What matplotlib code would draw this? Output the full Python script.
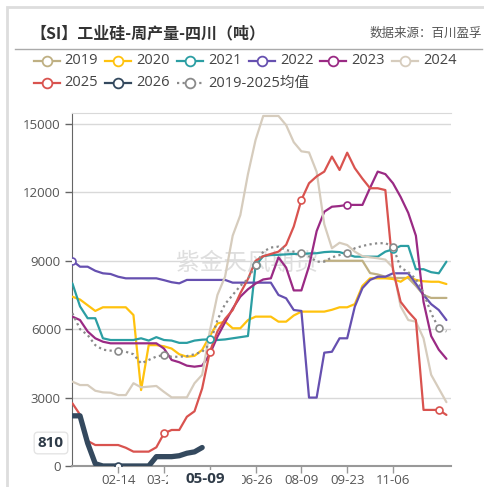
import numpy as np
import matplotlib
matplotlib.use("Agg")
import matplotlib.pyplot as plt
from matplotlib.lines import Line2D
from matplotlib.patches import Rectangle

plt.rcParams['font.family'] = ['Open Sans', 'Noto Sans CJK SC', 'DejaVu Sans']

# weekly production, Sichuan (t)
s2019 = [None] * 33 + [9000, 9000, 9000, 9000, 9000, 9000, 8460, 8400, 8300, 8245,
                       8245, 8245, 7900, 7500, 7370, 7370, 7370]
s2020 = [7425, 7300, 7050, 6800, 6960, 6960, 6960, 6960, 6620, 3330,
         5300, 5300, 5250, 5150, 4900, 4790, 4830, 5090, 5700, 6250,
         6330, 6040, 6040, 6400, 6550, 6550, 6550, 6330, 6330, 6600,
         6770, 6770, 6770, 6770, 6850, 6960, 6960, 7100, 7900, 8230,
         8230, 8230, 8200, 8080, 8300, 8160, 8100, 8080, 8080, 7980]
s2021 = [8010, 7000, 6480, 6480, 5600, 5525, 5525, 5525, 5525, 5600,
         5500, 5650, 5525, 5500, 5400, 5400, 5500, 5540, 5555, 5525,
         5550, 5600, 5650, 5700, 8800, 9200, 9250, 9260, 9280, 9300,
         9300, 9320, 9330, 9380, 9400, 9380, 9280, 9180, 9180, 9180,
         9180, 9400, 9500, 9650, 9650, 8630, 8630, 8500, 8450, 8960]
s2022 = [9000, 8740, 8740, 8560, 8450, 8420, 8300, 8230, 8230, 8230,
         8230, 8230, 8150, 8060, 8010, 8160, 8160, 8160, 8160, 8160,
         8160, 8040, 8040, 8040, 8040, 8040, 8040, 7500, 7355, 6840,
         6800, 3000, 3000, 4970, 5010, 5600, 5600, 6990, 7800, 8160,
         8300, 8300, 8450, 8450, 8450, 8000, 7500, 7100, 6840, 6400]
s2023 = [6550, 6400, 5900, 5600, 5450, 5380, 5380, 5380, 5380, 5380,
         5380, 5380, 5150, 4650, 4550, 4400, 4355, 4400, 4900, 5670,
         6300, 6900, 7425, 7750, 8000, 8180, 8230, 9150, 8700, 7700,
         7700, 8760, 10300, 11150, 11370, 11400, 11450, 11450, 11450, 12200,
         12910, 12800, 12400, 11800, 11100, 10100, 7200, 5700, 5100, 4700]
s2024 = [3700, 3550, 3550, 3300, 3230, 3215, 3110, 3110, 3630, 3450,
         3480, 3510, 3250, 3010, 3010, 3010, 3630, 4000, 5900, 7500,
         8300, 10100, 11000, 12800, 14300, 15350, 15350, 15350, 14950, 14200,
         13800, 13750, 12900, 10600, 9550, 9790, 9690, 9400, 9200, 9150,
         9110, 9050, 8700, 7000, 6400, 6330, 5600, 4000, 3400, 2800]
s2025 = [2750, 2250, 1100, 920, 920, 920, 920, 800, 630, 630,
         630, 820, 1430, 1580, 1580, 2160, 2400, 3400, 5000, 5900,
         6450, 6840, 7575, 8200, 9000, 9200, 9300, 9400, 9700, 10500,
         11670, 12400, 12700, 12910, 13570, 12980, 13740, 13060, 12600, 12180,
         12180, 12100, 8600, 7200, 6770, 6400, 2460, 2460, 2460, 2240]
s2026 = [2200, 2200, 1000, 100, 0, 0, 0, 0, 0, 0,
         0, 410, 410, 410, 450, 560, 620, 810] + [None] * 32
avg = [6700, 6000, 5745, 5300, 5100, 5060, 5060, 5010, 4900, 4500,
       4650, 4800, 4870, 4790, 4790, 4820, 4900, 5010, 5350, 6400,
       7100, 7500, 7900, 8200, 8820, 9400, 9580, 9620, 9470, 9400,
       9330, 9200, 8960, 8960, 9150, 9250, 9330, 9550, 9650, 9720,
       9770, 9770, 9620, 8700, 8500, 8200, 7600, 6700, 6040, 5900]

tick_pos = [6, 12, 18, 24, 30, 36, 42]
tick_labels = ["02-14", "03-28", "05-09", "06-26", "08-09", "09-23", "11-06"]
pointer_idx = 2  # tick shown by the axis pointer (bold, boxed)
y_ticks = [0, 3000, 6000, 9000, 12000, 15000]

series = [
    ("2019", s2019, "#bfb083", []),
    ("2020", s2020, "#ffc20e", []),
    ("2021", s2021, "#2b9ea3", [18, 24, 42]),
    ("2022", s2022, "#6650b0", [0]),
    ("2023", s2023, "#9a2a84", [36]),
    ("2024", s2024, "#d6ccbd", []),
    ("2025", s2025, "#d9534f", [12, 18, 30, 48]),
    ("2026", s2026, "#34495e", [6]),
    ("2019-2025均值", avg, "#8a8a8a", [6, 12, 24, 30, 36, 42, 48]),
]

W, H = 485, 487
fig = plt.figure(figsize=(W / 100, H / 100), dpi=100)


def fx(px):
    return px / W


def fy(py):
    return 1 - py / H


ax = fig.add_axes([fx(72), fy(466), fx(451) - fx(72), fy(113) - fy(466)])
x = np.arange(50)

for name, vals, col, marks in series:
    v = np.array([np.nan if a is None else a for a in vals], dtype=float)
    lw = 1.6
    ls = "-"
    if name == "2026":
        lw = 3.8
    if "均值" in name:
        ls = (0, (1, 1.5))
    ax.plot(x, v, color=col, lw=lw, ls=ls, solid_capstyle="round",
            solid_joinstyle="round", zorder=3)
    if marks:
        ax.plot(x[marks], v[marks], ls="none", marker="o", ms=5, mfc="white",
                mec=col, mew=1.2, zorder=4)

ax.set_xlim(-0.05, 49.6)
ax.set_ylim(0, 15480)
ax.set_yticks(y_ticks)
ax.set_yticklabels([str(t) for t in y_ticks], fontsize=9.5, color="#555555")
ax.set_xticks(tick_pos)
shown = ["" if i == pointer_idx else t for i, t in enumerate(tick_labels)]
ax.set_xticklabels(shown, fontsize=9.5, color="#555555")
ax.tick_params(axis="y", length=5, width=1, color="#666666", pad=3)
ax.tick_params(axis="x", length=5, width=1, color="#999999", pad=1)
ax.grid(axis="y", color="#d9d9d9", lw=1, zorder=0)
ax.set_axisbelow(True)
ax.spines["right"].set_visible(False)
ax.spines["top"].set_color("#d9d9d9")
ax.spines["left"].set_color("#666666")
ax.spines["bottom"].set_color("#999999")
ax.spines["bottom"].set_linewidth(1.5)

# watermark
ax.text(fx(247), fy(263), "紫金天风期货", transform=fig.transFigure, fontsize=17,
        color="#dedede", ha="center", va="center", zorder=1,
        family=["Noto Sans CJK SC"])

# title block
fig.add_artist(Rectangle((fx(7), fy(490)), fx(490), fy(7) - fy(490), fill=False,
                         ec="#dddddd", lw=2))
fig.text(fx(30), fy(33), "【SI】工业硅-周产量-四川（吨）", fontsize=11.5,
         fontweight="bold", color="#333333", va="center",
         family=["Noto Sans CJK SC"])
fig.text(fx(482), fy(33), "数据来源：百川盈孚", fontsize=9, color="#555555",
         va="center", ha="right", family=["Noto Sans CJK SC"])
fig.add_artist(Line2D([fx(15), fx(482)], [fy(49), fy(49)], color="#aaaaaa", lw=1))

# legend
leg_x = [46.7, 118, 190, 262, 333, 405, 46.7, 118, 190]
leg_y = [61] * 6 + [83] * 3
for (name, vals, col, marks), lx, ly in zip(series, leg_x, leg_y):
    ls = (0, (1, 1.5)) if "均值" in name else "-"
    fig.add_artist(Line2D([fx(lx - 13), fx(lx + 13)], [fy(ly), fy(ly)], color=col,
                          lw=1.6, ls=ls))
    fig.add_artist(Line2D([fx(lx)], [fy(ly)], marker="o", ms=7, mfc="white",
                          mec=col, mew=1.3, ls="none"))
    fig.text(fx(lx + 18), fy(ly), name, fontsize=10.5, color="#444444",
             va="center", ha="left")

# axis pointer labels
fig.add_artist(Rectangle((fx(168), fy(487)), fx(242) - fx(168), fy(470) - fy(487),
                         fc="white", ec="none", zorder=5))
fig.text(fx(205), fy(479), tick_labels[pointer_idx], fontsize=11, fontweight="bold",
         color="#2f3b48", ha="center", va="center", zorder=6)
last = [v for v in s2026 if v is not None][-1]
fig.text(fx(51), fy(443), str(last), fontsize=11, fontweight="bold",
         color="#2f3b48", ha="center", va="center", zorder=6,
         bbox=dict(boxstyle="round,pad=0.25", fc="white", ec="#e4e4e4", lw=1))

fig.savefig("out.png", dpi=100)
